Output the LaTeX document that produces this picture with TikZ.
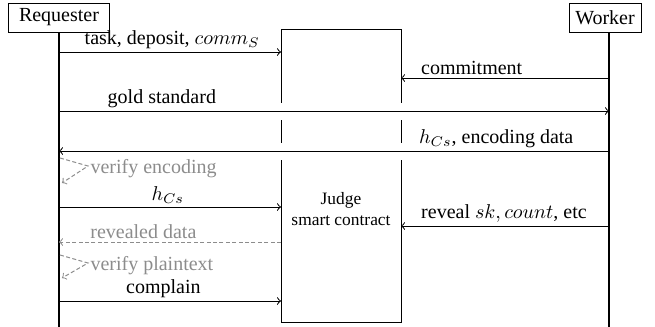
\documentclass[tikz,border=0pt]{standalone}
\usepackage{fontspec}
\setmainfont{Liberation Serif}
\usetikzlibrary{positioning}

\begin{document}
\begin{tikzpicture}[x=0.5pt, y=-0.5pt,
    every node/.style={font=\rmfamily\fontsize{10}{12}\selectfont},
    actor/.style={draw, rectangle, line width=0.5pt, minimum height=14.5pt, inner sep=0pt},
    msg/.style={->, line width=0.5pt},
    graymsg/.style={->, line width=0.5pt, black!45, dash pattern=on 2pt off 1.2pt},
    lbl/.style={above, inner sep=1.5pt},
    cross/.style={preaction={draw=white, -, line width=8.5pt, shorten <=3pt, shorten >=3pt}},
    lifeline/.style={line width=1.2pt}]
        \useasboundingbox (0,0) rectangle (655,327);

        % Nodes
        \node (Requester) [actor, minimum width=50.5pt] at (59,17.5) {Requester};
        \node (Worker) [actor, minimum width=36pt] at (605,17.5) {Worker};
        \node (judge) [draw, rectangle, line width=0.5pt, minimum width=60pt, minimum height=146.5pt, inner sep=0pt] at (341,175.5) {};
        \node (judgetxt) [align=center, font=\rmfamily\fontsize{8.7}{10.5}\selectfont] at (341,209.5) {Judge\\smart contract};

        % Lifelines
        \coordinate (rbot) at (59,327);
        \coordinate (wtop) at (609,32);
        \coordinate (wbot) at (609,327);
        \draw[lifeline] (Requester.south) -- (rbot);
        \draw[lifeline] (wtop) -- (wbot);

        % Message ends
        \coordinate (r1) at (59,52);   \coordinate (j1) at (281,52);
        \coordinate (w2) at (609,78);  \coordinate (k2) at (401,78);
        \coordinate (r3) at (59,111);  \coordinate (w3) at (609,111);
        \coordinate (w4) at (609,151); \coordinate (r4) at (59,151);
        \coordinate (l1a) at (60,158); \coordinate (l1b) at (88,166); \coordinate (l1c) at (62,183);
        \coordinate (r5) at (59,207);  \coordinate (j5) at (281,207);
        \coordinate (w6) at (609,226); \coordinate (k6) at (401,226);
        \coordinate (j7) at (281,242); \coordinate (r7) at (59,242);
        \coordinate (l2a) at (60,255); \coordinate (l2b) at (88,263); \coordinate (l2c) at (62,278);
        \coordinate (r8) at (59,301);  \coordinate (j8) at (281,301);

        % Arrows
        \draw[msg] (r1) -- node[lbl, pos=0.51] {task, deposit, $comm_S$} (j1);
        \draw[msg] (w2) -- node[lbl, pos=0.66] {commitment} (k2);
        \draw[msg, cross] (r3) -- node[lbl, pos=0.187] {gold standard} (w3);
        \draw[msg, cross] (w4) -- node[lbl, pos=0.205] {$h_{Cs}$, encoding data} (r4);
        \draw[graymsg] (l1a) -- (l1b) node[right, inner sep=1pt, yshift=-1.5pt] {verify encoding} -- (l1c);
        \draw[msg] (r5) -- node[lbl, pos=0.49] {$h_{Cs}$} (j5);
        \draw[msg] (w6) -- node[lbl, pos=0.505] {reveal $sk, count$, etc} (k6);
        \draw[graymsg] (j7) -- node[lbl, pos=0.62] {revealed data} (r7);
        \draw[graymsg] (l2a) -- (l2b) node[right, inner sep=1pt, yshift=-1.5pt] {verify plaintext} -- (l2c);
        \draw[msg] (r8) -- node[lbl, pos=0.47] {complain} (j8);

\end{tikzpicture}
\end{document}
